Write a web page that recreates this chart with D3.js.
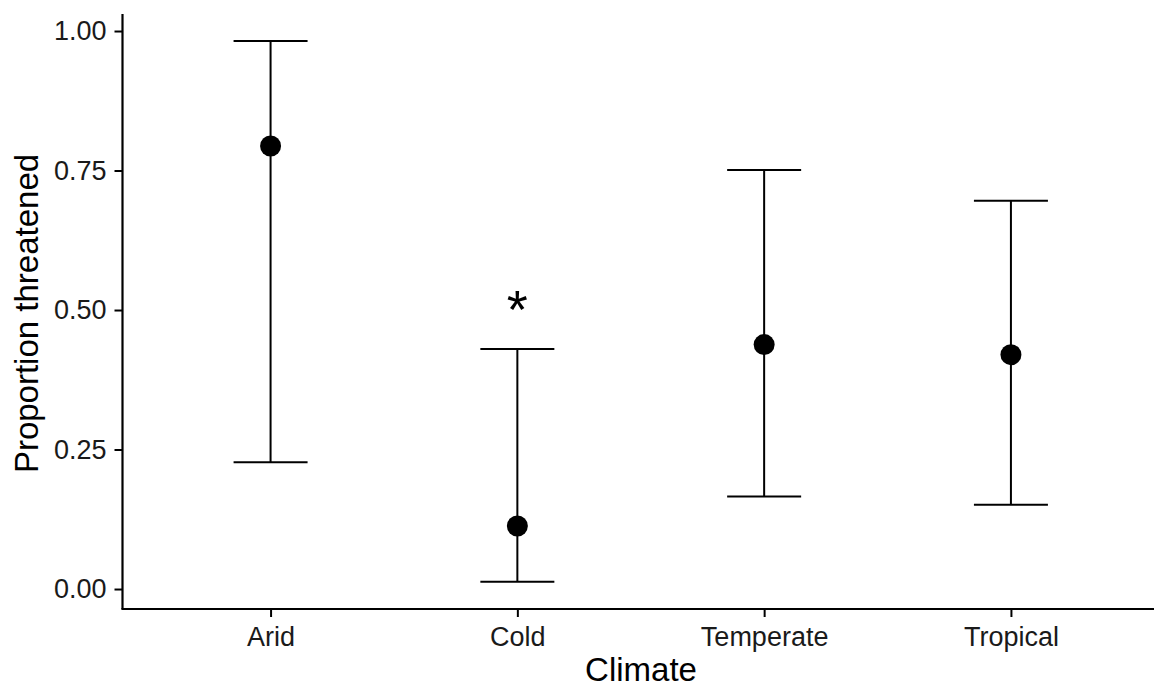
<!DOCTYPE html>
<html>
<head>
<meta charset="utf-8">
<script src="https://cdn.jsdelivr.net/npm/d3@7"></script>
<style>
  html, body { margin: 0; padding: 0; background: #fff; }
  svg { display: block; font-family: "Liberation Sans", Arial, sans-serif; }
</style>
</head>
<body>
<svg id="chart" width="1154" height="687"></svg>
<script>
// ---- data ----
const categories = ["Arid", "Cold", "Temperate", "Tropical"];
const estimate   = [0.794, 0.113, 0.438, 0.420];
const lower      = [0.227, 0.013, 0.166, 0.151];
const upper      = [0.982, 0.430, 0.751, 0.696];
const significant = [false, true, false, false];
const yTicks = [0, 0.25, 0.5, 0.75, 1.0];
const xTitle = "Climate";
const yTitle = "Proportion threatened";
const marker = "*";

const rows = categories.map((c, i) => ({
  cat: c, est: estimate[i], lo: lower[i], hi: upper[i], sig: significant[i]
}));

// ---- layout ----
const svg = d3.select("#chart");
const panel = { left: 122.5, right: 1159, top: 14, bottom: 609 };

const x = d3.scalePoint()
  .domain(categories)
  .range([panel.left, panel.right])
  .padding(0.6);

const y = d3.scaleLinear()
  .domain([-0.0358, 1.0305])
  .range([panel.bottom, panel.top]);

const ink = "#000";
const tickFont = 27;
const titleFont = 33;

// y axis
const yAxis = svg.append("g")
  .attr("transform", `translate(${panel.left},0)`)
  .call(d3.axisLeft(y).tickValues(yTicks).tickFormat(d3.format(".2f")).tickSize(8).tickPadding(8).tickSizeOuter(0));
yAxis.select(".domain").attr("stroke", ink).attr("stroke-width", 2.2)
  .attr("d", `M0,${panel.top}V${panel.bottom}`);
yAxis.selectAll(".tick line").attr("stroke", ink).attr("stroke-width", 2);
yAxis.selectAll(".tick text").attr("fill", "#1a1a1a").attr("font-size", tickFont)
  .attr("font-family", "Liberation Sans, Arial, sans-serif");

// x axis
const xAxis = svg.append("g")
  .attr("transform", `translate(0,${panel.bottom})`)
  .call(d3.axisBottom(x).tickSize(8).tickPadding(10).tickSizeOuter(0));
xAxis.select(".domain").attr("stroke", ink).attr("stroke-width", 2.2)
  .attr("d", `M${panel.left - 1.1},0H1154`);
xAxis.selectAll(".tick line").attr("stroke", ink).attr("stroke-width", 2);
xAxis.selectAll(".tick text").attr("fill", "#1a1a1a").attr("font-size", tickFont)
  .attr("font-family", "Liberation Sans, Arial, sans-serif");

// error bars
const capHalf = 37;
const g = svg.append("g");
g.selectAll("line.v").data(rows).join("line")
  .attr("class", "v")
  .attr("x1", d => x(d.cat)).attr("x2", d => x(d.cat))
  .attr("y1", d => y(d.lo)).attr("y2", d => y(d.hi))
  .attr("stroke", ink).attr("stroke-width", 2);
g.selectAll("line.cap-hi").data(rows).join("line")
  .attr("class", "cap-hi")
  .attr("x1", d => x(d.cat) - capHalf).attr("x2", d => x(d.cat) + capHalf)
  .attr("y1", d => y(d.hi)).attr("y2", d => y(d.hi))
  .attr("stroke", ink).attr("stroke-width", 2);
g.selectAll("line.cap-lo").data(rows).join("line")
  .attr("class", "cap-lo")
  .attr("x1", d => x(d.cat) - capHalf).attr("x2", d => x(d.cat) + capHalf)
  .attr("y1", d => y(d.lo)).attr("y2", d => y(d.lo))
  .attr("stroke", ink).attr("stroke-width", 2);

// points
g.selectAll("circle").data(rows).join("circle")
  .attr("cx", d => x(d.cat)).attr("cy", d => y(d.est))
  .attr("r", 10.5).attr("fill", ink);

// significance markers
g.selectAll("text.sig").data(rows.filter(d => d.sig)).join("text")
  .attr("class", "sig")
  .attr("x", d => x(d.cat)).attr("y", d => y(d.hi) - 55)
  .attr("dy", "0.62em")
  .attr("text-anchor", "middle")
  .attr("font-size", 54)
  .attr("fill", ink)
  .text(marker);

// titles
svg.append("text")
  .attr("x", 641).attr("y", 681)
  .attr("text-anchor", "middle")
  .attr("font-size", titleFont).attr("fill", ink)
  .text(xTitle);
svg.append("text")
  .attr("transform", `translate(38,${(panel.top + panel.bottom) / 2 + 2}) rotate(-90)`)
  .attr("text-anchor", "middle")
  .attr("font-size", titleFont).attr("fill", ink)
  .text(yTitle);
</script>
</body>
</html>
